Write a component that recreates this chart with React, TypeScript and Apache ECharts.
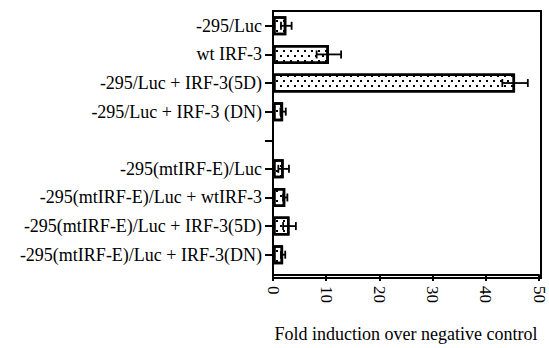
import React, { useEffect, useRef } from "react";
import * as echarts from "echarts";

const categories = [
  "-295/Luc",
  "wt IRF-3",
  "-295/Luc + IRF-3(5D)",
  "-295/Luc + IRF-3 (DN)",
  "",
  "-295(mtIRF-E)/Luc",
  "-295(mtIRF-E)/Luc + wtIRF-3",
  "-295(mtIRF-E)/Luc + IRF-3(5D)",
  "-295(mtIRF-E)/Luc + IRF-3(DN)",
];
const foldValues: (number | null)[] = [2.5, 10.5, 45.5, 1.9, null, 2.0, 2.3, 3.1, 1.9];
const errorValues: (number | null)[] = [1.0, 2.3, 2.4, 0.5, null, 1.0, 0.4, 1.2, 0.4];
const xTicks = [0, 10, 20, 30, 40, 50];
const xTitle = "Fold induction over negative control";

const FONT = "Liberation Serif";

export default function App() {
  const ref = useRef<HTMLDivElement>(null);
  useEffect(() => {
    if (!ref.current) return;
    const chart = echarts.init(ref.current, null, { renderer: "svg" });
    const errData = foldValues.map((v, i) =>
      v == null || errorValues[i] == null ? [i, null, null] : [i, v, errorValues[i]]
    );
    chart.setOption({
      animation: false,
      backgroundColor: "#fff",
      grid: { left: 273, width: 266, top: 11.5, height: 260 },
      xAxis: {
        type: "value",
        min: xTicks[0],
        max: xTicks[xTicks.length - 1],
        interval: 10,
        offset: 6,
        name: xTitle,
        nameLocation: "middle",
        nameGap: 50,
        nameTextStyle: { color: "#000", fontFamily: FONT, fontSize: 18 },
        axisLine: { show: true, lineStyle: { color: "#000", width: 2 } },
        axisTick: { show: true, length: 6, lineStyle: { color: "#000", width: 2 } },
        splitLine: { show: false },
        axisLabel: {
          rotate: -90,
          margin: 11,
          color: "#000",
          fontFamily: FONT,
          fontSize: 17,
        },
      },
      yAxis: {
        type: "category",
        inverse: true,
        data: categories,
        axisLine: { show: false },
        axisTick: {
          show: true,
          alignWithLabel: true,
          length: 8,
          lineStyle: { color: "#000", width: 2 },
        },
        axisLabel: {
          margin: 11,
          color: "#000",
          fontFamily: FONT,
          fontSize: 18,
        },
      },
      graphic: [
        {
          type: "rect",
          shape: { x: 273, y: 11, width: 268, height: 267 },
          style: { fill: "none", stroke: "#000", lineWidth: 2 },
          z: 10,
        },
      ],
      series: [
        {
          type: "bar",
          data: foldValues,
          barWidth: 19,
          itemStyle: {
            color: "#fff",
            borderColor: "#000",
            borderWidth: 2.5,
            decal: {
              symbol: "rect",
              symbolSize: 1,
              color: "#000",
              dashArrayX: [
                [1.8, 4.2],
                [0, 3, 1.8, 1.2],
              ],
              dashArrayY: [1.8, 2.2],
            },
          },
          z: 2,
        },
        {
          type: "custom",
          data: errData,
          encode: { x: 1, y: 0 },
          z: 5,
          renderItem: (params: any, api: any) => {
            const v = api.value(1);
            const e = api.value(2);
            if (v == null || e == null || isNaN(v) || isNaN(e)) return null;
            const c = api.value(0);
            const lo = api.coord([v - e, c]);
            const hi = api.coord([v + e, c]);
            const h = 4;
            const style = { stroke: "#000", lineWidth: 1.8 };
            return {
              type: "group",
              children: [
                { type: "line", shape: { x1: lo[0], y1: lo[1], x2: hi[0], y2: hi[1] }, style },
                { type: "line", shape: { x1: lo[0], y1: lo[1] - h, x2: lo[0], y2: lo[1] + h }, style },
                { type: "line", shape: { x1: hi[0], y1: hi[1] - h, x2: hi[0], y2: hi[1] + h }, style },
              ],
            };
          },
        },
      ],
    });
    return () => chart.dispose();
  }, []);
  return (
    <div
      ref={ref}
      style={{ position: "absolute", left: 0, top: 0, width: 549, height: 348 }}
    />
  );
}
